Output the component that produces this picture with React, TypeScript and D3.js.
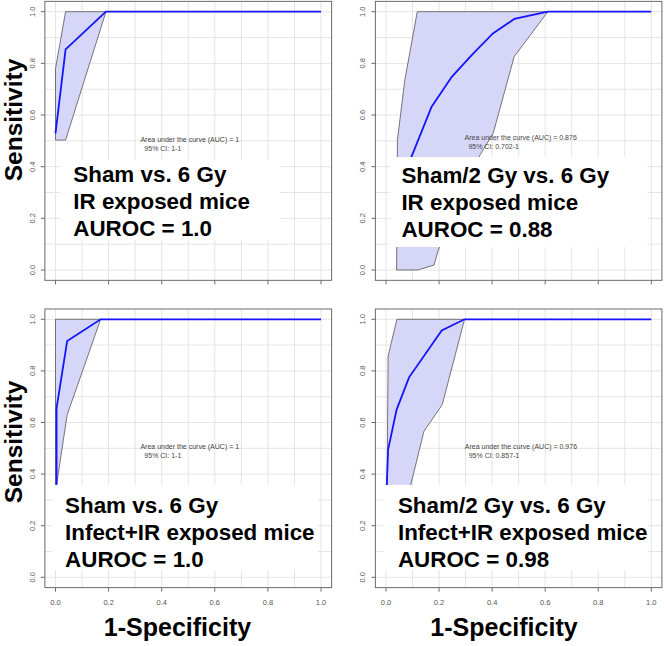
import { useEffect, useRef } from "react";
import * as d3 from "d3";

const WIDTH = 664;
const HEIGHT = 646;

export const colors = {
  CURVE: "rgb(20, 20, 255)",
  CI_FILL: "rgb(214, 214, 248)",
  CI_STROKE: "#555",
  GRID: "#e4e4e4",
  BOX: "#6a6a6a",
  TICK_TEXT: "#555",
  AUC_TEXT: "#444",
};

const axisTicks = [0, 0.2, 0.4, 0.6, 0.8, 1.0];
const axisTickLabels = ["0.0", "0.2", "0.4", "0.6", "0.8", "1.0"];
const gridTicks = [0, 0.1, 0.2, 0.3, 0.4, 0.5, 0.6, 0.7, 0.8, 0.9, 1.0];

type Pt = [number, number];

// ROC curves: [1-specificity, sensitivity]
const shamIrRoc: Pt[] = [[0, 0.529], [0.038, 0.854], [0.19, 1.0], [1.0, 1.0]];
const shamIrCi: Pt[] = [[0, 0.503], [0, 0.78], [0.038, 1.0], [0.19, 1.0], [0.038, 0.503]];

const sham2IrRoc: Pt[] = [
  [0.045, 0.15], [0.06, 0.3], [0.097, 0.441], [0.172, 0.632], [0.248, 0.748],
  [0.323, 0.832], [0.403, 0.916], [0.484, 0.972], [0.61, 1.0], [1.0, 1.0],
];
const sham2IrCi: Pt[] = [
  [0.04, 0], [0.043, 0.503], [0.071, 0.736], [0.118, 1.0], [0.61, 1.0], [0.483, 0.826],
  [0.404, 0.529], [0.354, 0.445], [0.197, 0.077], [0.181, 0.019], [0.119, 0],
];

const shamInfRoc: Pt[] = [[0.004, 0.2], [0.004, 0.656], [0.044, 0.916], [0.17, 1.0], [1.0, 1.0]];
const shamInfCi: Pt[] = [[0, 0.2], [0, 1.0], [0.17, 1.0], [0.044, 0.63], [0.004, 0.358], [0.004, 0.2]];

const sham2InfRoc: Pt[] = [
  [0.003, 0.2], [0.003, 0.357], [0.008, 0.495], [0.04, 0.65], [0.087, 0.775],
  [0.21, 0.957], [0.296, 1.0], [1.0, 1.0],
];
const sham2InfCi: Pt[] = [
  [0.003, 0.2], [0.008, 0.857], [0.041, 1.0], [0.296, 1.0], [0.212, 0.669],
  [0.143, 0.566], [0.093, 0.357], [0.055, 0.2],
];

const aucValues = ["1", "0.876", "1", "0.976"];
const ciValues = ["1-1", "0.702-1", "1-1", "0.857-1"];
const titles = [
  ["Sham vs. 6 Gy", "IR exposed mice", "AUROC = 1.0"],
  ["Sham/2 Gy vs. 6 Gy", "IR exposed mice", "AUROC = 0.88"],
  ["Sham vs. 6 Gy", "Infect+IR exposed mice", "AUROC = 1.0"],
  ["Sham/2 Gy vs. 6 Gy", "Infect+IR exposed mice", "AUROC = 0.98"],
];

// layout (pixel ranges per column / row, everything else in data units)
const colX: Pt[] = [[55.5, 321], [386, 651.3]];
const rowY: Pt[] = [[270, 11.7], [577.3, 319.3]];

const panels = [
  { col: 0, row: 0, roc: shamIrRoc, ci: shamIrCi, aucX: 0.32, aucY: 0.497, mask: [0.017, 0.846, 0.116, 0.426], titleX: 0.067, titleY: 0.342 },
  { col: 1, row: 0, roc: sham2IrRoc, ci: sham2IrCi, aucX: 0.296, aucY: 0.503, mask: [0.014, 0.986, 0.089, 0.4375], titleX: 0.058, titleY: 0.336 },
  { col: 0, row: 1, roc: shamInfRoc, ci: shamInfCi, aucX: 0.32, aucY: 0.497, mask: [-0.012, 0.988, 0.028, 0.358], titleX: 0.036, titleY: 0.248 },
  { col: 1, row: 1, roc: sham2InfRoc, ci: sham2InfCi, aucX: 0.297, aucY: 0.497, mask: [-0.01, 0.988, 0.028, 0.358], titleX: 0.045, titleY: 0.248 },
];

const FONT = "'Liberation Sans', Arial, sans-serif";

class D3RocGrid {
  svg;

  constructor(containerEl: SVGSVGElement) {
    this.svg = d3.select(containerEl);
    this.svg.selectAll("*").remove();
    this.svg.append("rect").attr("width", WIDTH).attr("height", HEIGHT).attr("fill", "white");

    panels.forEach((p, i) => this.renderPanel(p, i));

    // axis titles
    [120, 442].forEach((cy) => {
      this.svg
        .append("text")
        .attr("transform", `translate(21.5,${cy}) rotate(-90)`)
        .attr("text-anchor", "middle")
        .attr("font-family", FONT)
        .attr("font-weight", "bold")
        .attr("font-size", 24.5)
        .attr("fill", "black")
        .text("Sensitivity");
    });
    [177.5, 504].forEach((cx) => {
      this.svg
        .append("text")
        .attr("x", cx)
        .attr("y", 636)
        .attr("text-anchor", "middle")
        .attr("font-family", FONT)
        .attr("font-weight", "bold")
        .attr("font-size", 25)
        .attr("fill", "black")
        .text("1-Specificity");
    });
  }

  renderPanel(p: (typeof panels)[number], i: number) {
    const x = d3.scaleLinear().domain([0, 1]).range(colX[p.col]);
    const y = d3.scaleLinear().domain([0, 1]).range(rowY[p.row]);
    const g = this.svg.append("g");

    const left = x(-0.04);
    const right = x(1.04);
    const top = y(1.04);
    const bottom = y(-0.04);

    // grid
    g.selectAll(".vgrid")
      .data(gridTicks)
      .enter()
      .append("line")
      .attr("x1", (d) => x(d))
      .attr("x2", (d) => x(d))
      .attr("y1", top)
      .attr("y2", bottom)
      .style("stroke", colors.GRID)
      .style("stroke-width", 1);
    g.selectAll(".hgrid")
      .data(gridTicks)
      .enter()
      .append("line")
      .attr("y1", (d) => y(d))
      .attr("y2", (d) => y(d))
      .attr("x1", left)
      .attr("x2", right)
      .style("stroke", colors.GRID)
      .style("stroke-width", 1);

    // confidence band
    g.append("path")
      .attr("d", d3.line<Pt>().x((d) => x(d[0])).y((d) => y(d[1]))(p.ci) + "Z")
      .style("fill", colors.CI_FILL)
      .style("stroke", colors.CI_STROKE)
      .style("stroke-width", 0.8);

    // roc curve
    g.append("path")
      .attr("d", d3.line<Pt>().x((d) => x(d[0])).y((d) => y(d[1]))(p.roc))
      .style("fill", "none")
      .style("stroke", colors.CURVE)
      .style("stroke-width", 1.8);

    // box
    g.append("rect")
      .attr("x", left)
      .attr("y", top)
      .attr("width", right - left)
      .attr("height", bottom - top)
      .style("fill", "none")
      .style("stroke", colors.BOX)
      .style("stroke-width", 1);

    // y axis
    g.selectAll(".ytick")
      .data(axisTicks)
      .enter()
      .append("line")
      .attr("x1", left - 4)
      .attr("x2", left)
      .attr("y1", (d) => y(d))
      .attr("y2", (d) => y(d))
      .style("stroke", colors.BOX);
    g.selectAll(".ylab")
      .data(axisTicks)
      .enter()
      .append("text")
      .attr("transform", (d) => `translate(${left - 10},${y(d)}) rotate(-90)`)
      .attr("text-anchor", "middle")
      .attr("font-family", FONT)
      .attr("font-size", 7.5)
      .attr("fill", colors.TICK_TEXT)
      .text((_, j) => axisTickLabels[j]);

    // x axis
    g.selectAll(".xtick")
      .data(axisTicks)
      .enter()
      .append("line")
      .attr("x1", (d) => x(d))
      .attr("x2", (d) => x(d))
      .attr("y1", bottom)
      .attr("y2", bottom + 4)
      .style("stroke", colors.BOX);
    if (p.row === 1) {
      g.selectAll(".xlab")
        .data(axisTicks)
        .enter()
        .append("text")
        .attr("x", (d) => x(d))
        .attr("y", bottom + 17)
        .attr("text-anchor", "middle")
        .attr("font-family", FONT)
        .attr("font-size", 7.5)
        .attr("fill", colors.TICK_TEXT)
        .text((_, j) => axisTickLabels[j]);
    }

    // auc text
    g.append("text")
      .attr("x", x(p.aucX))
      .attr("y", y(p.aucY))
      .attr("font-family", FONT)
      .attr("font-size", 7)
      .attr("fill", colors.AUC_TEXT)
      .text(`Area under the curve (AUC) = ${aucValues[i]}`);
    g.append("text")
      .attr("x", x(p.aucX))
      .attr("y", y(p.aucY) + 9)
      .attr("font-family", FONT)
      .attr("font-size", 7)
      .attr("fill", colors.AUC_TEXT)
      .attr("xml:space", "preserve")
      .text(`  95% CI: ${ciValues[i]}`);

    // white label box
    const [mx0, mx1, my0, my1] = p.mask;
    g.append("rect")
      .attr("x", x(mx0))
      .attr("y", y(my1))
      .attr("width", x(mx1) - x(mx0))
      .attr("height", y(my0) - y(my1))
      .style("fill", "white");

    titles[i].forEach((t, k) => {
      g.append("text")
        .attr("x", x(p.titleX))
        .attr("y", y(p.titleY) + k * 27)
        .attr("font-family", FONT)
        .attr("font-weight", "bold")
        .attr("font-size", 22.4)
        .attr("fill", "black")
        .text(t);
    });
  }

  destroy() {
    this.svg.selectAll("*").remove();
  }
}

export default function App() {
  const ref = useRef<SVGSVGElement>(null);

  useEffect(() => {
    if (!ref.current) return;
    const chart = new D3RocGrid(ref.current);
    return () => chart.destroy();
  }, []);

  return (
    <svg
      ref={ref}
      width={WIDTH}
      height={HEIGHT}
      style={{ position: "absolute", left: 0, top: 0, display: "block" }}
    />
  );
}
